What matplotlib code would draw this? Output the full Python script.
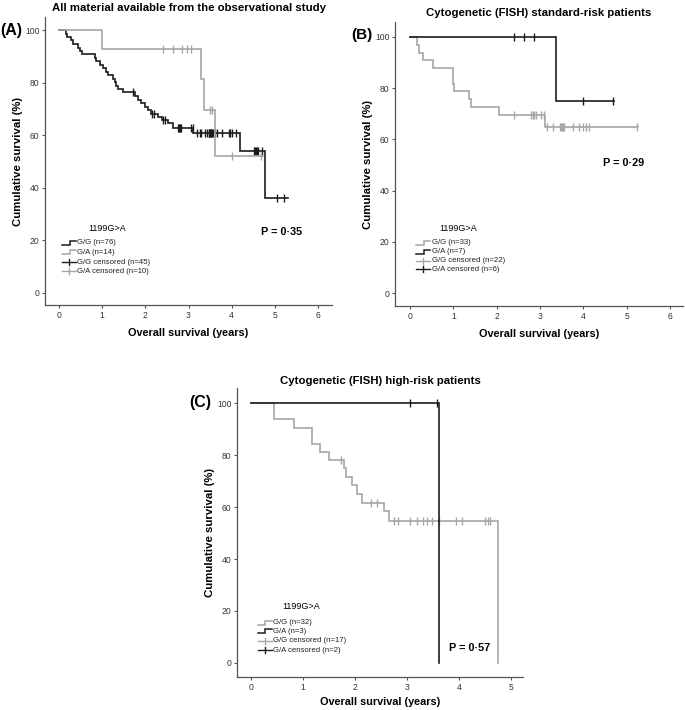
import numpy as np
import matplotlib
matplotlib.use("Agg")
import matplotlib.pyplot as plt

plt.rcParams["font.family"] = ["Liberation Sans", "DejaVu Sans"]

BLACK = "#1c1c1c"
GREY = "#a6a6a6"

# ----------------------------
# Panel A: all material
# ----------------------------
a_gg_times = [0.155, 0.2, 0.277, 0.33, 0.447, 0.486, 0.525, 0.833, 0.87, 0.95, 1.03, 1.1,
              1.14, 1.26, 1.3, 1.33, 1.37, 1.49, 1.76, 1.84, 1.91, 1.99, 2.07, 2.14, 2.3,
              2.38, 2.53, 2.65, 3.11, 4.19, 4.77]
a_gg_surv = [98.7, 97.4, 96.1, 94.8, 93.4, 92.1, 90.8, 89.5, 88.2, 86.8, 85.5, 84.2,
             82.9, 81.6, 80.3, 78.9, 77.6, 76.3, 75.0, 73.6, 72.2, 70.8, 69.5, 68.2, 67.0,
             65.8, 64.6, 62.7, 60.8, 54.0, 36.0]
a_gg_end = 5.3
a_gg_cens = [1.72, 2.15, 2.2, 2.4, 2.45, 2.76, 2.78, 2.8, 2.81, 2.83, 3.05, 3.1, 3.19,
             3.26, 3.3, 3.38, 3.43, 3.47, 3.48, 3.49, 3.5, 3.51, 3.52, 3.54, 3.56, 3.61,
             3.66, 3.77, 3.94, 3.97, 4.01, 4.11, 4.51, 4.53, 4.56, 4.59, 4.61, 4.69,
             5.05, 5.2]

a_ga_times = [1.0, 3.3, 3.35, 3.62]
a_ga_surv = [92.9, 81.3, 69.6, 52.2]
a_ga_end = 4.72
a_ga_cens = [2.41, 2.63, 2.85, 2.96, 3.05, 3.5, 3.55, 4.0, 4.67]

# ----------------------------
# Panel B: standard-risk
# ----------------------------
b_gg_times = [0.15, 0.2, 0.3, 0.52, 0.98, 1.0, 1.02, 1.35, 1.4, 2.05, 3.12]
b_gg_surv = [97.0, 93.9, 90.9, 87.9, 84.8, 81.8, 78.8, 75.8, 72.7, 69.7, 64.9]
b_gg_end = 5.27
b_gg_cens = [2.4, 2.8, 2.83, 2.86, 2.9, 3.02, 3.1, 3.15, 3.3, 3.45, 3.48, 3.5, 3.52,
             3.55, 3.75, 3.9, 4.0, 4.05, 4.12, 5.25]

b_ga_times = [3.37]
b_ga_surv = [75.0]
b_ga_end = 4.7
b_ga_cens = [2.4, 2.62, 2.86, 4.0, 4.68]

# ----------------------------
# Panel C: high-risk
# ----------------------------
c_gg_times = [0.45, 0.82, 1.18, 1.32, 1.5, 1.78, 1.82, 1.95, 2.03, 2.13, 2.55, 2.65, 4.75]
c_gg_surv = [93.7, 90.6, 84.4, 81.3, 78.1, 74.9, 71.6, 68.3, 65.0, 61.7, 58.3, 54.7, 0.0]
c_gg_end = 4.75
c_gg_cens = [1.73, 2.3, 2.42, 2.75, 2.82, 3.05, 3.2, 3.3, 3.38, 3.48, 3.62, 3.95, 4.05,
             4.5, 4.55, 4.6]

c_ga_times = [3.61]
c_ga_surv = [0.0]
c_ga_end = 3.61
c_ga_cens = [3.05, 3.57]


def km(ax, times, surv, end, cens, color):
    x = np.concatenate([[0.0], times, [end]])
    y = np.concatenate([[100.0], surv, [surv[-1]]])
    ax.step(x, y, where="post", color=color, lw=1.2, solid_joinstyle="miter")
    # censor marks sit on the curve
    cy = [y[np.searchsorted(x, t, side="right") - 1] for t in cens]
    ax.plot(cens, cy, ls="none", marker="|", ms=6, mew=1.0, color=color)


def legend(ax, labels, colors, hx, hy, x0, x1, rows):
    ax.text(hx, hy, "1199G>A", transform=ax.transAxes, fontsize=6.5,
            ha="center", va="center")
    d = 0.0065
    xm = x0 + (x1 - x0) * 0.55
    for i, (lab, col) in enumerate(zip(labels, colors)):
        y = rows[i]
        if i < 2:
            ax.plot([x0, xm, xm, x1], [y - d, y - d, y + d, y + d], color=col, lw=1.1,
                    transform=ax.transAxes, solid_joinstyle="miter")
        else:
            ax.plot([x0, x1], [y, y], color=col, lw=1.0, transform=ax.transAxes)
            ax.plot([(x0 + x1) / 2] * 2, [y - 0.0105, y + 0.0105], color=col, lw=1.0,
                    transform=ax.transAxes)
        ax.text(x1 + 0.005, y, lab, transform=ax.transAxes, fontsize=5.6,
                ha="left", va="center", color="#222222")


def style(ax, xmax, xlim, ylim, xpad=6):
    ax.set_xlim(*xlim)
    ax.set_ylim(*ylim)
    ax.set_xticks(range(0, xmax + 1))
    ax.set_yticks([0, 20, 40, 60, 80, 100])
    ax.spines["top"].set_visible(False)
    ax.spines["right"].set_visible(False)
    for s in ("left", "bottom"):
        ax.spines[s].set_color("#555555")
        ax.spines[s].set_linewidth(0.9)
    ax.tick_params(labelsize=6.2, length=2.5, width=0.8, color="#555555",
                   labelcolor="#333333", pad=1.5)
    ax.set_xlabel("Overall survival (years)", fontsize=7.8, fontweight="bold", labelpad=xpad)
    ax.set_ylabel("Cumulative survival (%)", fontsize=8.2, fontweight="bold", labelpad=1.5)


fig = plt.figure(figsize=(6.85, 7.10), dpi=100)

# A
ax = fig.add_axes([0.0657, 0.5704, 0.419, 0.4056])
km(ax, a_gg_times, a_gg_surv, a_gg_end, a_gg_cens, BLACK)
km(ax, a_ga_times, a_ga_surv, a_ga_end, a_ga_cens, GREY)
style(ax, 6, (-0.32, 6.32), (-4.6, 105))
ax.set_title("All material available from the observational study", fontsize=8.2,
             fontweight="bold", pad=4)
ax.text(5.15, 23, "P = 0·35", fontsize=7.8, fontweight="bold", ha="center", va="center")
legend(ax, ["G/G (n=76)", "G/A (n=14)", "G/G censored (n=45)", "G/A censored (n=10)"],
       [BLACK, GREY, BLACK, GREY], 0.216, 0.264, 0.058, 0.108,
       [0.216, 0.183, 0.149, 0.118])
fig.text(0.0, 1 - 30 / 710, "(A)", fontsize=11.5, fontweight="bold", ha="left", va="center")

# B
ax = fig.add_axes([0.5766, 0.569, 0.4204, 0.4])
km(ax, b_gg_times, b_gg_surv, b_gg_end, b_gg_cens, GREY)
km(ax, b_ga_times, b_ga_surv, b_ga_end, b_ga_cens, BLACK)
style(ax, 6, (-0.35, 6.3), (-5, 105.8))
ax.set_title("Cytogenetic (FISH) standard-risk patients", fontsize=8.2,
             fontweight="bold", pad=4)
ax.text(4.92, 50.8, "P = 0·29", fontsize=7.8, fontweight="bold", ha="center", va="center")
legend(ax, ["G/G (n=33)", "G/A (n=7)", "G/G censored (n=22)", "G/A censored (n=6)"],
       [GREY, BLACK, GREY, BLACK], 0.221, 0.274, 0.072, 0.122,
       [0.223, 0.191, 0.160, 0.129])
fig.text(351 / 685, 1 - 35 / 710, "(B)", fontsize=11, fontweight="bold", ha="left", va="center")

# C
ax = fig.add_axes([0.346, 0.0465, 0.4175, 0.407])
km(ax, c_gg_times, c_gg_surv, c_gg_end, c_gg_cens, GREY)
km(ax, c_ga_times, c_ga_surv, c_ga_end, c_ga_cens, BLACK)
style(ax, 5, (-0.27, 5.23), (-5.4, 105.8), xpad=4)
ax.set_title("Cytogenetic (FISH) high-risk patients", fontsize=8.2,
             fontweight="bold", pad=3)
ax.text(4.21, 5.8, "P = 0·57", fontsize=7.8, fontweight="bold", ha="center", va="center")
legend(ax, ["G/G (n=32)", "G/A (n=3)", "G/G censored (n=17)", "G/A censored (n=2)"],
       [GREY, BLACK, GREY, BLACK], 0.223, 0.243, 0.072, 0.122,
       [0.188, 0.158, 0.125, 0.093])
fig.text(189 / 685, 1 - 403 / 710, "(C)", fontsize=11.5, fontweight="bold", ha="left", va="center")

fig.savefig("out.png", dpi=100)
